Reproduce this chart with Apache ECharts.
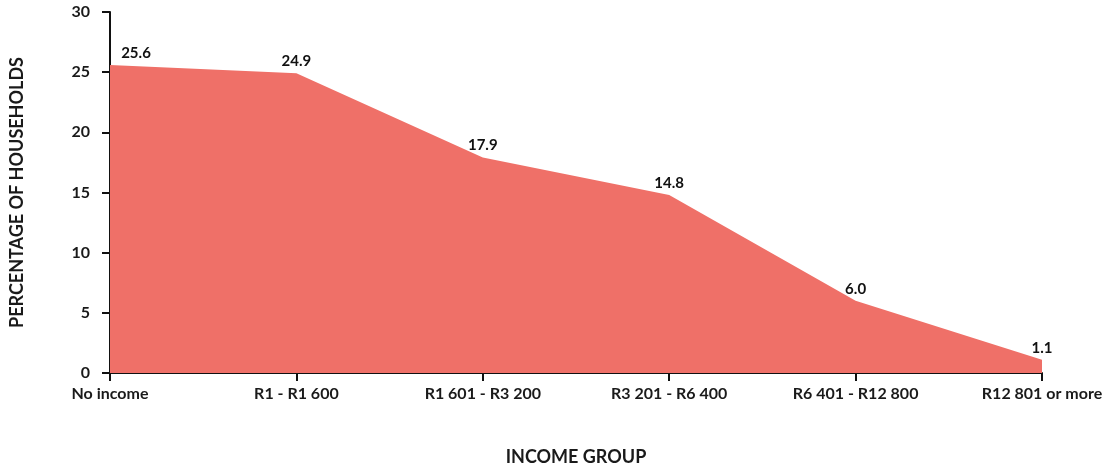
<!DOCTYPE html>
<html><head><meta charset="utf-8">
<script src="https://cdn.jsdelivr.net/npm/echarts@6/dist/echarts.min.js"></script>
<style>html,body{margin:0;padding:0;background:#fff}#c{width:1113px;height:471px}</style>
</head><body><div id="c"></div>
<script>
const categories = ['No income', 'R1 - R1 600', 'R1 601 - R3 200', 'R3 201 - R6 400', 'R6 401 - R12 800', 'R12 801 or more'];
const percentages = [25.6, 24.9, 17.9, 14.8, 6.0, 1.1];
const yTicks = [0, 5, 10, 15, 20, 25, 30];

const FONT = 'Lato';
const chart = echarts.init(document.getElementById('c'));
chart.setOption({
  animation: false,
  textStyle: { fontFamily: FONT },
  grid: { left: 110, right: 71, top: 12, bottom: 98, containLabel: false, outerBoundsMode: 'none' },
  xAxis: {
    type: 'category', data: categories, boundaryGap: false,
    name: 'INCOME GROUP', nameLocation: 'middle', nameGap: 75,
    nameTextStyle: { fontFamily: FONT, fontSize: 18, fontWeight: 'bold', color: '#1a1a1a' },
    axisLine: { lineStyle: { color: '#111', width: 2 } },
    axisTick: { show: true, length: 8, alignWithLabel: true, lineStyle: { color: '#111', width: 2 } },
    axisLabel: { margin: 13, fontFamily: FONT, fontSize: 16, fontWeight: 'bold', color: '#1a1a1a' },
    splitLine: { show: false }
  },
  yAxis: {
    type: 'value', min: yTicks[0], max: yTicks[yTicks.length - 1], interval: 5,
    name: 'PERCENTAGE OF HOUSEHOLDS', nameLocation: 'middle', nameGap: 84, nameRotate: 90,
    nameTextStyle: { fontFamily: FONT, fontSize: 18, fontWeight: 'bold', color: '#1a1a1a' },
    axisLine: { show: true, lineStyle: { color: '#111', width: 2 } },
    axisTick: { show: true, length: 8, lineStyle: { color: '#111', width: 2 } },
    axisLabel: { margin: 20, fontFamily: FONT, fontSize: 16, fontWeight: 'bold', color: '#1a1a1a' },
    splitLine: { show: false }
  },
  series: [{
    type: 'line',
    data: percentages,
    symbol: 'none',
    lineStyle: { width: 0 },
    areaStyle: { color: '#EF7068', opacity: 1 },
    z: 1,
    silent: true
  }, {
    type: 'scatter',
    data: percentages.map((v, i) => i === 0 ? { value: v, label: { offset: [26, 0] } } : v),
    symbolSize: 1,
    itemStyle: { color: 'rgba(0,0,0,0)', opacity: 1 },
    z: 3,
    silent: true,
    label: {
      show: true, position: 'top', distance: 4,
      formatter: p => Number(p.value).toFixed(1),
      fontFamily: FONT, fontSize: 15, fontWeight: 'bold', color: '#111'
    }
  }]
});
</script></body></html>
